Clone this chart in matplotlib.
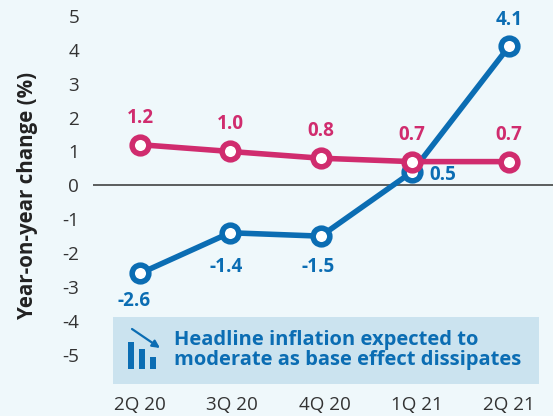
import matplotlib
matplotlib.use("Agg")
import matplotlib.pyplot as plt
from matplotlib.patches import Rectangle, FancyArrowPatch

W, H = 553, 416
BG = "#EFF8FB"
BLUE = "#0B6DB3"
PINK = "#D02C6E"
TXT = "#333333"

quarters = ["2Q 20", "3Q 20", "4Q 20", "1Q 21", "2Q 21"]
point_x = [0, 0.975, 1.96, 2.95, 4]
blue_values = [-2.6, -1.4, -1.5, 0.4, 4.1]
pink_values = [1.2, 1.0, 0.8, 0.7, 0.7]
blue_labels = ["-2.6", "-1.4", "-1.5", "0.5", "4.1"]
pink_labels = ["1.2", "1.0", "0.8", "0.7", "0.7"]
y_ticks = [-5, -4, -3, -2, -1, 0, 1, 2, 3, 4, 5]
icon_bars = [27, 20, 12]

plt.rcParams["font.family"] = ["Open Sans", "DejaVu Sans"]

fig = plt.figure(figsize=(W / 100, H / 100), dpi=100, facecolor=BG)
left, right, top, bottom = 93, 553, 0, 392
ax = fig.add_axes([left / W, 1 - bottom / H, (right - left) / W, (bottom - top) / H])
ax.set_facecolor("none")
ax.set_xlim(-0.51, 4.477)
ax.set_ylim(-6.1, 5.47)

for s in ax.spines.values():
    s.set_visible(False)
ax.axhline(0, color="#333333", lw=1.1, zorder=1)

ax.set_xticks(range(len(quarters)), quarters)
ax.set_yticks(y_ticks, [str(v) for v in y_ticks])
ax.tick_params(axis="both", length=0, labelsize=13.6, labelcolor=TXT)
ax.tick_params(axis="y", pad=10)
ax.tick_params(axis="x", pad=3.2)

common = dict(lw=4.0, marker="o", ms=12.0, mew=4.0, mfc="white", solid_capstyle="round")
ax.plot(point_x, blue_values, color=BLUE, zorder=3, clip_on=False, **common)
ax.plot(point_x, pink_values, color=PINK, zorder=4, clip_on=False, **common)

lab = dict(fontsize=13.6, fontweight="bold", ha="center", va="center", zorder=5)
blue_offsets = [(-6, -28), (-4, -34), (-3, -31), (31, -3), (0, 26)]
for x, v, s, off in zip(point_x, blue_values, blue_labels, blue_offsets):
    ax.annotate(s, (x, v), xytext=(off[0] * .72, off[1] * .72), textcoords="offset points", color=BLUE, **lab)
for x, v, s in zip(point_x, pink_values, pink_labels):
    ax.annotate(s, (x, v), xytext=(0, 19.5), textcoords="offset points", color=PINK, **lab)

fig.text(28 / W, 1 - 195 / H, "Year-on-year change (%)", rotation=90, ha="center", va="center",
         fontsize=14.8, fontweight="bold", color="#222222")

fig.add_artist(Rectangle((113 / W, 1 - 384 / H), 426 / W, 67 / H, transform=fig.transFigure,
                         facecolor="#CBE3EF", edgecolor="none", zorder=2))

# icon
iax = fig.add_axes([126 / W, 1 - 369 / H, 36 / W, 43 / H], zorder=6)
iax.set_xlim(0, 36)
iax.set_ylim(0, 43)
iax.axis("off")
iax.bar([5, 16, 27], icon_bars, width=6, color=BLUE)
iax.add_patch(FancyArrowPatch((6, 40), (34, 21), arrowstyle="-|>", mutation_scale=11,
                              lw=1.6, color=BLUE, shrinkA=0, shrinkB=0, clip_on=False))

fig.text(174 / W, 1 - 350 / H, "Headline inflation expected to\nmoderate as base effect dissipates",
         ha="left", va="center", fontsize=14.5, fontweight="bold", color=BLUE,
         linespacing=1.02, zorder=7)

fig.savefig("out.png", dpi=100, facecolor=BG)
